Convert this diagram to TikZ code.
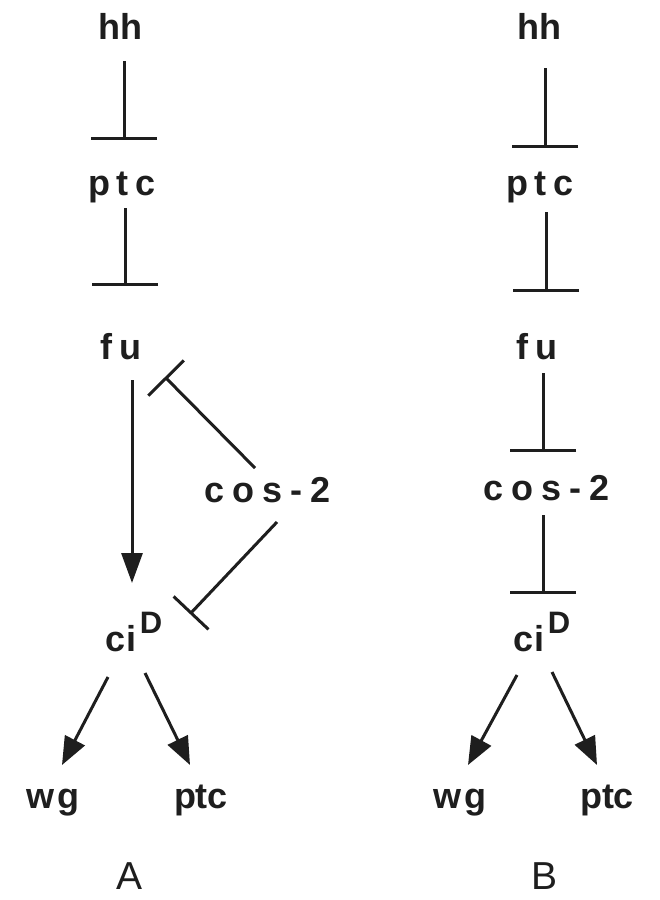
\documentclass[tikz,border=0pt]{standalone}
\usepackage{fontspec}
\setmainfont{Liberation Sans}
\usetikzlibrary{arrows.meta,calc}
\definecolor{ink}{HTML}{1E1E1E}
\begin{document}
\begin{tikzpicture}[x=1pt,y=-1pt,
  lab/.style={anchor=base, inner sep=0pt, text=ink, font=\bfseries\fontsize{36}{40}\selectfont},
  panel/.style={anchor=base, inner sep=0pt, text=ink, font=\fontsize{39}{42}\selectfont},
  link/.style={draw=ink, line width=3pt},
  inh/.style={link, -{Bar[width=#1]}},
  inh/.default=66pt,
  act/.style={link, -{Triangle[length=30pt,width=21pt]}},
  actd/.style={link, -{Triangle[length=28pt,width=22pt]}},
]
\fill[white] (0,0) rectangle (659,900);
\useasboundingbox (0,0) rectangle (659,900);

% ---------- Panel A ----------
\node[lab] (hhA)  at (120,39)  {hh};
\node[lab] (ptcA) at (122,195) {p\kern7pt t\kern7pt c};
\node[lab] (fuA)  at (121,359) {f\kern7pt u};
\node[lab] (cosA) at (268,502) {c\kern8pt o\kern8pt s\kern8pt -\kern8pt 2};
\node[lab] (ciA)  at (134,651) {c\kern1pt i\kern3pt\raisebox{18pt}{\fontsize{31}{31}\selectfont D}};
\node[lab] (wgA)  at (53,808)  {w\kern3pt g};
\node[lab] (ptcbA) at (201,808) {ptc};
\node[panel] (labA) at (130,889) {A};

\draw[inh] ($(hhA.base)+(4,22)$) -- ($(ptcA.base)+(2,-55)$);
\draw[inh] ($(ptcA.base)+(3,13)$) -- ($(fuA.base)+(4,-73)$);
\draw[act] ($(fuA.base)+(11,21)$) -- ($(ciA.base)+(-2,-68)$);
\draw[inh=50pt] ($(cosA.base)+(-13,-34)$) -- ($(fuA.base)+(44,18)$);
\draw[inh=48pt] ($(cosA.base)+(9,20)$) -- ($(ciA.base)+(56,-37)$);
\draw[actd] ($(ciA.base)+(-26,26)$) -- ($(wgA.base)+(9,-43)$);
\draw[actd] ($(ciA.base)+(11,22)$) -- ($(ptcbA.base)+(-11,-43)$);

% ---------- Panel B ----------
\node[lab] (hhB)  at (539,39)  {hh};
\node[lab] (ptcB) at (540,195) {p\kern7pt t\kern7pt c};
\node[lab] (fuB)  at (537,359) {f\kern7pt u};
\node[lab] (cosB) at (547,500) {c\kern8pt o\kern8pt s\kern8pt -\kern8pt 2};
\node[lab] (ciB)  at (542,651) {c\kern1pt i\kern3pt\raisebox{18pt}{\fontsize{31}{31}\selectfont D}};
\node[lab] (wgB)  at (460,808) {w\kern3pt g};
\node[lab] (ptcbB) at (607,808) {ptc};
\node[panel] (labB) at (545,889) {B};

\draw[inh] ($(hhB.base)+(6,29)$) -- ($(ptcB.base)+(5,-47)$);
\draw[inh] ($(ptcB.base)+(6,17)$) -- ($(fuB.base)+(9,-67)$);
\draw[inh] ($(fuB.base)+(6,14)$) -- ($(cosB.base)+(-4,-48)$);
\draw[inh] ($(cosB.base)+(-4,15)$) -- ($(ciB.base)+(1,-57)$);
\draw[actd] ($(ciB.base)+(-25,24)$) -- ($(wgB.base)+(8,-43)$);
\draw[actd] ($(ciB.base)+(10,21)$) -- ($(ptcbB.base)+(-10,-43)$);
\end{tikzpicture}
\end{document}
